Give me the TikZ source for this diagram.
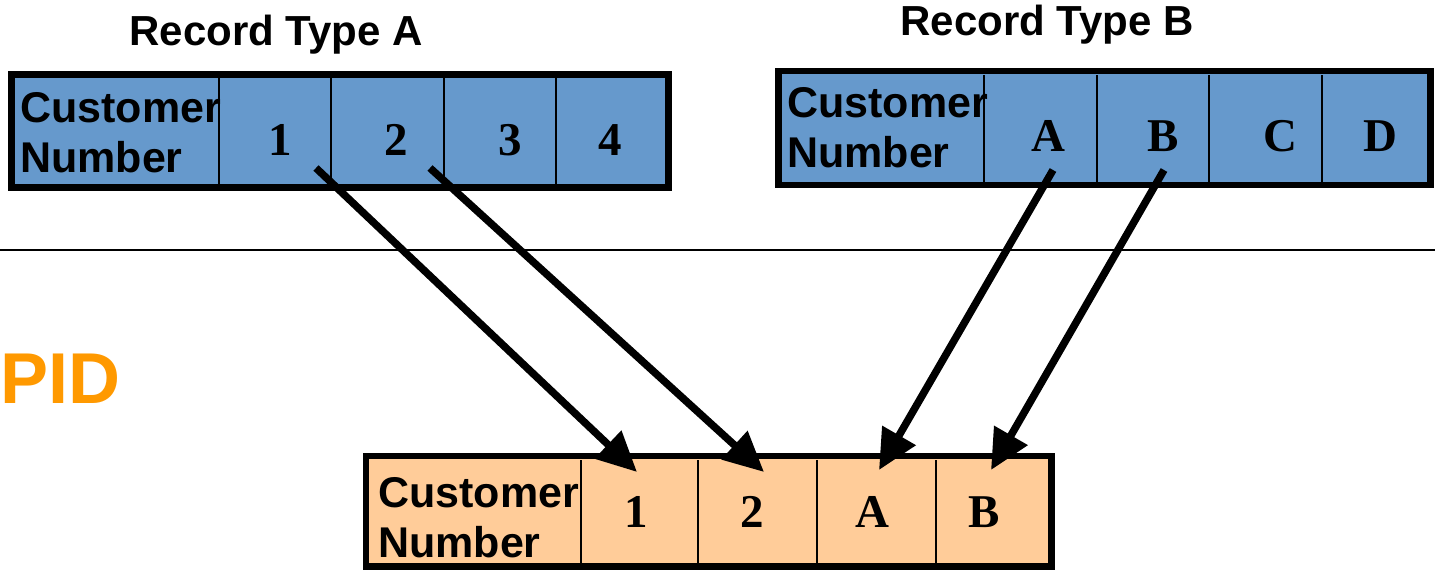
\documentclass[tikz,border=0pt]{standalone}
\usepackage{fontspec}
\setmainfont{Liberation Serif}
\setsansfont{Liberation Sans}
\usetikzlibrary{arrows.meta}
\definecolor{recblue}{HTML}{6699CC}
\definecolor{pidpeach}{HTML}{FFCC99}
\definecolor{pidorange}{HTML}{FF9900}
\tikzset{
  recbox/.style={draw=black, line width=6.5pt},
  divider/.style={draw=black, line width=1.5pt},
  custlabel/.style={font=\sffamily\bfseries\fontsize{43}{50}\selectfont, align=left, inner sep=0pt, anchor=north west},
  celllabel/.style={font=\rmfamily\bfseries\fontsize{47}{50}\selectfont, inner sep=0pt, anchor=base},
  titlelabel/.style={font=\sffamily\bfseries\fontsize{42}{46}\selectfont, inner sep=0pt, anchor=base},
  maparrow/.style={draw=black, line width=7.5pt, -{Triangle[length=40pt,width=37pt]}},
}
\begin{document}
\begin{tikzpicture}[x=1pt,y=-1pt]
\useasboundingbox (0,0) rectangle (1435,570);
% divider line
\coordinate (sepL) at (0,250);
\coordinate (sepR) at (1435,250);
\draw[line width=1.5pt] (sepL) -- (sepR);
% titles
\node[titlelabel] (titleA) at (276,45) {Record Type A};
\node[titlelabel] (titleB) at (1047,35) {Record Type B};
% Record Type A box
\path[recbox, fill=recblue] (11.5,74.5) rectangle (668.5,187.5);
\foreach \x in {219,331,444,556} \draw[divider] (\x,78) -- (\x,184);
\node[custlabel] (custA) at (20,92) {Customer\\Number};
\node[celllabel] (a1) at (280,155) {1};
\node[celllabel] (a2) at (396,155) {2};
\node[celllabel] (a3) at (510,155) {3};
\node[celllabel] (a4) at (610,155) {4};
% Record Type B box
\path[recbox, fill=recblue] (778.5,71) rectangle (1430.5,185);
\foreach \x in {984,1097,1209,1322} \draw[divider] (\x,75) -- (\x,182);
\node[custlabel] (custB) at (787,87) {Customer\\Number};
\node[celllabel] (b1) at (1048,151) {A};
\node[celllabel] (b2) at (1163,151) {B};
\node[celllabel] (b3) at (1280,151) {C};
\node[celllabel] (b4) at (1380,151) {D};
% PID box
\path[recbox, fill=pidpeach] (366,456) rectangle (1051.5,566.5);
\foreach \x in {581,698,817,936} \draw[divider] (\x,460) -- (\x,563);
\node[custlabel] (custP) at (378,477) {Customer\\Number};
\node[celllabel] (p1) at (636,527) {1};
\node[celllabel] (p2) at (752,527) {2};
\node[celllabel] (p3) at (872,527) {A};
\node[celllabel] (p4) at (984,527) {B};
% PID label
\node[font=\sffamily\bfseries\fontsize{72}{76}\selectfont, text=pidorange, inner sep=0pt, anchor=base west] (pid) at (0,403) {PID};
% arrows
\coordinate (s1) at (316,168); \coordinate (t1) at (637,472);
\coordinate (s2) at (430,168); \coordinate (t2) at (764,472);
\coordinate (s3) at (1053,170); \coordinate (t3) at (879,470);
\coordinate (s4) at (1164,170); \coordinate (t4) at (991,470);
\draw[maparrow] (s1) -- (t1);
\draw[maparrow] (s2) -- (t2);
\draw[maparrow] (s3) -- (t3);
\draw[maparrow] (s4) -- (t4);
\end{tikzpicture}
\end{document}
